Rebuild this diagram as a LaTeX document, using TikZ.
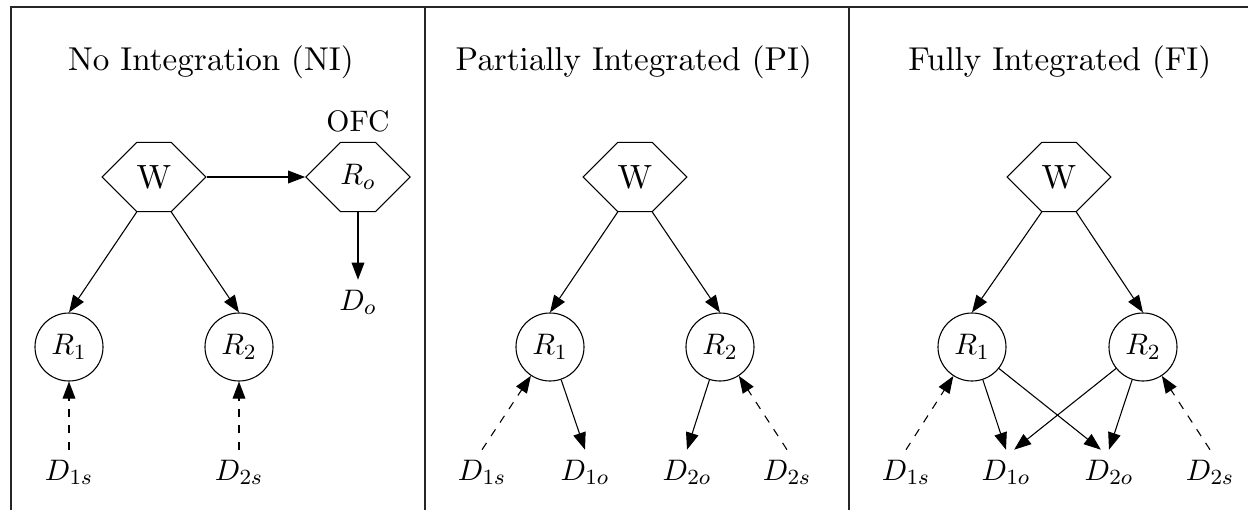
\documentclass[tikz,border=0pt]{standalone}
\usetikzlibrary{arrows.meta,shapes.symbols}
\font\ttlfont=cmr10 at 12.2pt
\font\wfont=cmr10 at 12.4pt
\begin{document}
\begin{tikzpicture}[x=0.369pt,y=-0.369pt,
  nf/.style={font=\fontsize{10.95pt}{13pt}\selectfont},
  hexnode/.style={nf, shape=signal, signal to=west and east, signal pointer angle=90, draw, minimum width=37.6pt, minimum height=25.5pt, inner sep=0pt},
  circnode/.style={nf, circle, draw, minimum size=25.1pt, inner sep=0pt},
  lbl/.style={nf, inner sep=3.5pt, anchor=base},
  ttl/.style={font=\ttlfont, anchor=base, inner sep=0pt},
  arr/.style={-{Triangle[length=6.3pt,width=4.7pt]}},
  darr/.style={arr, dashed},
  frameline/.style={line width=0.45pt, black!85}]
\useasboundingbox (0,0) rectangle (1248,510);
% frame
\draw[frameline] (11,510) -- (11,7) -- (1248,7);
\draw[frameline] (425,7) -- (425,510);
\draw[frameline] (849,7) -- (849,510);
% titles
\node[ttl] (t1) at (211,70) {No Integration (NI)};
\node[ttl] (t2) at (634,70) {Partially Integrated (PI)};
\node[ttl] (t3) at (1060,70) {Fully Integrated (FI)};
% panel 1
\node[hexnode] (aW) at (154,177) {\wfont W};
\node[hexnode] (aRo) at (358,177) {$R_o$};
\node[lbl] (aOFC) at (358,131) {OFC};
\node[circnode] (aR1) at (69,347) {$R_1$};
\node[circnode] (aR2) at (239,347) {$R_2$};
\node[lbl] (aDo) at (358,310) {$D_o$};
\node[lbl] (aD1s) at (69,480) {$D_{1s}$};
\node[lbl] (aD2s) at (239,480) {$D_{2s}$};
\draw[arr] ([xshift=-6.4pt]aW.south) -- (aR1.north);
\draw[arr] ([xshift=6.4pt]aW.south) -- (aR2.north);
\draw[arr] (aW.east) -- (aRo.west);
\draw[arr] (aRo.south) -- (aDo.north);
\draw[darr] (aD1s.north) -- (aR1.south);
\draw[darr] (aD2s.north) -- (aR2.south);
% panel 2
\node[hexnode] (bW) at (635,177) {\wfont W};
\node[circnode] (bR1) at (550,347) {$R_1$};
\node[circnode] (bR2) at (720,347) {$R_2$};
\node[lbl] (bD1s) at (482,480) {$D_{1s}$};
\node[lbl] (bD1o) at (585,480) {$D_{1o}$};
\node[lbl] (bD2o) at (687,480) {$D_{2o}$};
\node[lbl] (bD2s) at (787,480) {$D_{2s}$};
\draw[arr] ([xshift=-6.4pt]bW.south) -- (bR1.north);
\draw[arr] ([xshift=6.4pt]bW.south) -- (bR2.north);
\draw[arr] (bR1) -- (bD1o.north);
\draw[arr] (bR2) -- (bD2o.north);
\draw[darr] (bD1s.north) -- (bR1);
\draw[darr] (bD2s.north) -- (bR2);
% panel 3
\node[hexnode] (cW) at (1059,177) {\wfont W};
\node[circnode] (cR1) at (972,347) {$R_1$};
\node[circnode] (cR2) at (1143,347) {$R_2$};
\node[lbl] (cD1s) at (906,480) {$D_{1s}$};
\node[lbl] (cD1o) at (1006,480) {$D_{1o}$};
\node[lbl] (cD2o) at (1109,480) {$D_{2o}$};
\node[lbl] (cD2s) at (1210,480) {$D_{2s}$};
\draw[arr] ([xshift=-6.4pt]cW.south) -- (cR1.north);
\draw[arr] ([xshift=6.4pt]cW.south) -- (cR2.north);
\draw[arr] (cR1) -- (cD1o.north);
\draw[arr] (cR2) -- ([xshift=3pt]cD1o.north);
\draw[arr] (cR1) -- ([xshift=-3pt]cD2o.north);
\draw[arr] (cR2) -- (cD2o.north);
\draw[darr] (cD1s.north) -- (cR1);
\draw[darr] (cD2s.north) -- (cR2);
\end{tikzpicture}
\end{document}
